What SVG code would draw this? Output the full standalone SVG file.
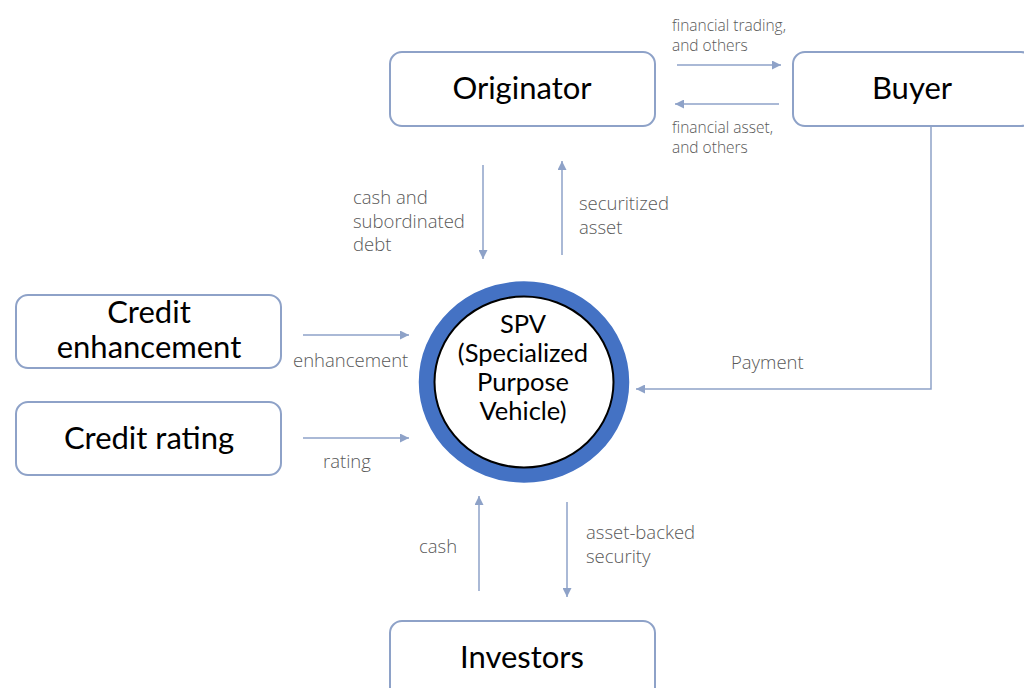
<svg xmlns="http://www.w3.org/2000/svg" width="1024" height="688" viewBox="0 0 1024 688">
<defs>
<style>
.box{fill:#fff;stroke:#8EA2C8;stroke-width:2}
.node{font-family:Lato,"Noto Sans",sans-serif;font-size:31px;fill:#000;text-anchor:middle}
.spv{font-family:Lato,"Noto Sans",sans-serif;font-size:25.5px;fill:#000;text-anchor:middle}
.lbl{font-family:"Open Sans","Noto Sans",sans-serif;font-weight:300;font-size:18.5px;fill:#595959}
.sm{font-size:15.5px}
.conn{fill:none;stroke:#8EA2C8;stroke-width:1.5}
</style>
<marker id="ah" viewBox="0 0 10 10" refX="10" refY="5" markerWidth="9" markerHeight="9" markerUnits="userSpaceOnUse" orient="auto">
<path d="M0,0 L10,5 L0,10 z" fill="#8EA2C8"/>
</marker>
</defs>
<rect width="1024" height="688" fill="#fff"/>
<g id="connectors">
<line class="conn" x1="677" y1="65" x2="781" y2="65" marker-end="url(#ah)"/>
<line class="conn" x1="779" y1="104" x2="675" y2="104" marker-end="url(#ah)"/>
<line class="conn" x1="483" y1="165" x2="483" y2="259" marker-end="url(#ah)"/>
<line class="conn" x1="562" y1="255" x2="562" y2="161" marker-end="url(#ah)"/>
<line class="conn" x1="303" y1="335" x2="409" y2="335" marker-end="url(#ah)"/>
<line class="conn" x1="303" y1="438" x2="409" y2="438" marker-end="url(#ah)"/>
<polyline class="conn" points="931,126 931,389 636,389" marker-end="url(#ah)"/>
<line class="conn" x1="479" y1="591" x2="479" y2="496" marker-end="url(#ah)"/>
<line class="conn" x1="567" y1="502" x2="567" y2="597" marker-end="url(#ah)"/>
<text class="lbl sm" x="672" y="31">financial trading,</text>
<text class="lbl sm" x="672" y="51">and others</text>
<text class="lbl sm" x="672" y="133">financial asset,</text>
<text class="lbl sm" x="672" y="153">and others</text>
<text class="lbl" x="353" y="204">cash and</text>
<text class="lbl" x="353" y="228">subordinated</text>
<text class="lbl" x="353" y="251">debt</text>
<text class="lbl" x="579" y="210">securitized</text>
<text class="lbl" x="579" y="234">asset</text>
<text class="lbl" x="293" y="367">enhancement</text>
<text class="lbl" x="323" y="468">rating</text>
<text class="lbl" x="731" y="369">Payment</text>
<text class="lbl" x="419" y="553">cash</text>
<text class="lbl" x="586" y="539">asset-backed</text>
<text class="lbl" x="586" y="563">security</text>
</g>
<g id="originator">
<rect class="box" x="390" y="52" width="265" height="74" rx="12"/>
<text class="node" x="522" y="99">Originator</text>
</g>
<g id="buyer">
<rect class="box" x="793" y="52" width="240" height="74" rx="12"/>
<text class="node" x="912" y="99">Buyer</text>
</g>
<g id="credit-enhancement">
<rect class="box" x="16" y="295" width="265" height="73" rx="12"/>
<text class="node" x="149" y="323">Credit</text>
<text class="node" x="149" y="358">enhancement</text>
</g>
<g id="credit-rating">
<rect class="box" x="16" y="402" width="265" height="73" rx="12"/>
<text class="node" x="149" y="449">Credit rating</text>
</g>
<g id="investors">
<rect class="box" x="390" y="621" width="265" height="80" rx="12"/>
<text class="node" x="522" y="668">Investors</text>
</g>
<g id="spv">
<ellipse cx="524" cy="382" rx="97.5" ry="93" fill="#fff" stroke="#4472C4" stroke-width="15.5"/>
<ellipse cx="524" cy="382" rx="89.5" ry="85.5" fill="none" stroke="#000" stroke-width="2"/>
<text class="spv" x="523" y="333">SPV</text>
<text class="spv" x="523" y="362">(Specialized</text>
<text class="spv" x="523" y="391">Purpose</text>
<text class="spv" x="523" y="420">Vehicle)</text>
</g>
</svg>
